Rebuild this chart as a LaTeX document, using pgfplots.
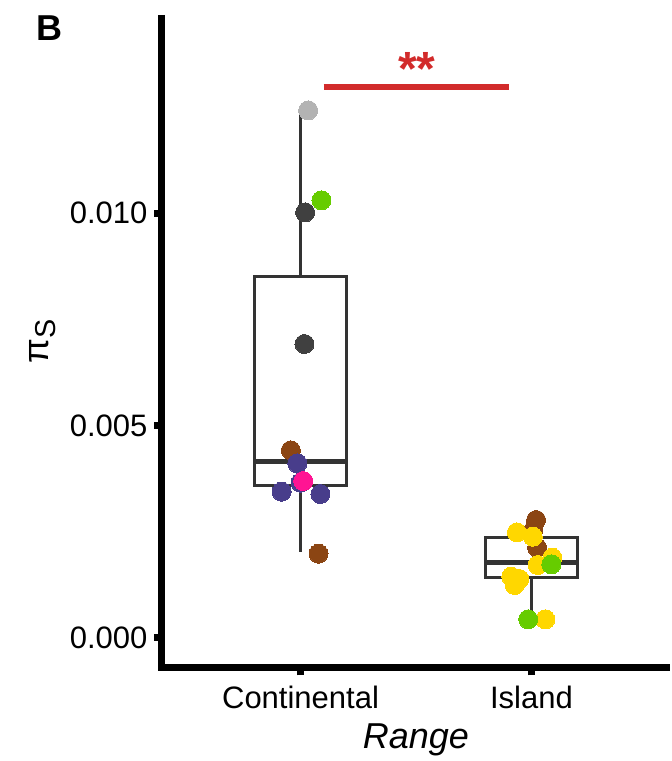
\documentclass[border=0pt]{standalone}
\usepackage{fontspec}
\setmainfont{Liberation Sans}
\usepackage{pgfplots}
\pgfplotsset{compat=1.18}
\usepgfplotslibrary{statistics}

\definecolor{boxc}{HTML}{333333}
\definecolor{cbrown}{HTML}{8B4513}
\definecolor{cyellow}{HTML}{FFD700}
\definecolor{cgreen}{HTML}{66CC00}
\definecolor{cdark}{HTML}{404040}
\definecolor{cpurple}{HTML}{483D8B}
\definecolor{cpink}{HTML}{FF1493}
\definecolor{clight}{HTML}{B3B3B3}
\definecolor{sigred}{HTML}{D22B2B}

\begin{document}
\begin{tikzpicture}
% y values are given in units of 1e-3
\begin{axis}[
    width=254pt, height=326.5pt, scale only axis,
    xmin=0.4, xmax=2.6,
    ymin=-0.706, ymax=14.66,
    clip=false,
    boxplot/draw direction=y,
    axis x line*=bottom, axis y line*=left,
    axis line style={draw=none},
    xtick={1,2}, xticklabels={Continental,Island},
    ytick={0,5,10}, yticklabels={0.000,0.005,0.010},
    tick align=outside,
    major tick length=3.75pt,
    tick style={line width=3.5pt, black},
    ticklabel style={font=\fontsize{15.5}{18}\selectfont},
    xticklabel style={anchor=base, yshift=-16.5pt},
    yticklabel style={anchor=east},
    xlabel={Range},
    xlabel style={at={(axis description cs:0.5,0)}, anchor=base, yshift=-40.5pt,
        font=\fontsize{18}{21}\selectfont\itshape},
]
% axis lines
\draw[line width=3.5pt, line join=miter] (rel axis cs:0,1) -- (rel axis cs:0,0) -- (rel axis cs:1,0);

% boxes
\addplot[boxplot prepared={draw position=1, lower whisker=2.03, lower quartile=3.59,
    median=4.16, upper quartile=8.50, upper whisker=12.41,
    box extend=0.4, whisker extend=0,
    every median/.style={line width=2.35pt},
    every whisker/.style={line width=1.5pt}},
    draw=boxc, line width=1.35pt] coordinates {};
\addplot[boxplot prepared={draw position=2, lower whisker=0.44, lower quartile=1.43,
    median=1.78, upper quartile=2.37, upper whisker=2.76,
    box extend=0.4, whisker extend=0,
    every median/.style={line width=2.35pt},
    every whisker/.style={line width=1.5pt}},
    draw=boxc, line width=1.35pt] coordinates {};

% points
\pgfplotsset{pts/.style={only marks, mark=*, mark size=4.75pt,
    mark options={fill=#1, draw=#1, line width=0pt}}}
\addplot[pts=cbrown] coordinates {
    (0.958,4.416) (1.078,1.984)
    (2.0201,2.776) (2.0086,2.541) (2.0244,2.125)};
\addplot[pts=cyellow] coordinates {
    (1.937,2.486) (2.006,2.384) (2.0905,1.889) (2.027,1.718)
    (1.9125,1.443) (1.948,1.388) (1.927,1.247) (2.060,0.44)};
\addplot[pts=cgreen] coordinates {
    (1.0905,10.299) (2.0862,1.734) (1.986,0.44)};
\addplot[pts=cdark] coordinates {
    (1.020,10.016) (1.017,6.918)};
\addplot[pts=cpurple] coordinates {
    (0.986,4.110) (1.000,3.655) (0.918,3.443) (1.086,3.388)};
\addplot[pts=cpink] coordinates {
    (1.0116,3.694)};
\addplot[pts=clight] coordinates {
    (1.033,12.416)};

% significance bar
\addplot[sigred, line width=2.6pt] coordinates {(1.1004,12.965) (1.902,12.965)};
\node[anchor=base, text=sigred, font=\fontsize{24}{28}\selectfont\bfseries]
    at (axis cs:1.503,13.0) {**};

% panel letter and y label
\node[anchor=base west, font=\fontsize{18}{21}\selectfont\bfseries]
    at (rel axis cs:-0.2618,0.9602) {B};
\node[rotate=90, font=\fontsize{18}{21}\selectfont]
    at (rel axis cs:-0.2343,0.5008) {π\raisebox{-3.5pt}{\fontsize{14.4}{16}\selectfont S}};

\coordinate (bl) at (rel axis cs:-0.3189,-0.14242);
\coordinate (tr) at (rel axis cs:1.00394,1.02297);
\end{axis}
\pgfresetboundingbox
\path (bl) rectangle (tr);
\end{tikzpicture}
\end{document}
